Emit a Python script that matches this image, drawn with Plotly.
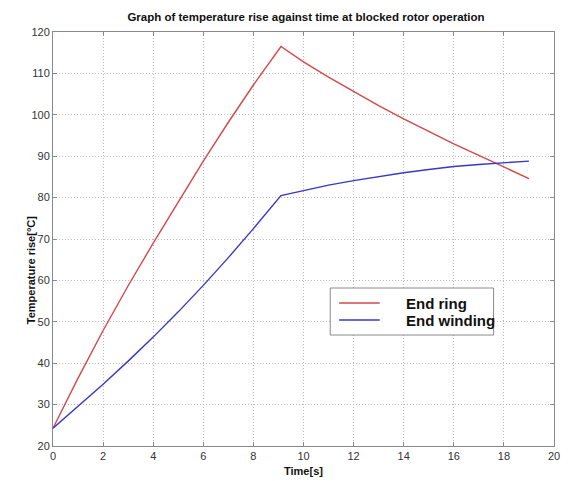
import plotly.graph_objects as go

# ---- data ----
time_s = [0, 1, 2, 3, 4, 5, 6, 7, 8, 9.1, 10, 11, 12, 13, 14, 15, 16, 17, 18, 19]
end_ring = [24.3, 36.4, 47.9, 58.7, 69.0, 79.0, 88.8, 98.2, 107.2, 116.5,
             112.8, 109.1, 105.6, 102.2, 99.0, 95.9, 93.0, 90.2, 87.3, 84.6]
end_winding = [24.3, 29.5, 34.9, 40.5, 46.3, 52.4, 58.8, 65.5, 72.5, 80.5,
               81.7, 83.0, 84.1, 85.1, 86.0, 86.8, 87.5, 88.0, 88.4, 88.8]
series_names = ["End ring", "End winding"]
series_colors = ["#d44848", "#3838c8"]
x_ticks = [0, 2, 4, 6, 8, 10, 12, 14, 16, 18, 20]
y_ticks = [20, 30, 40, 50, 60, 70, 80, 90, 100, 110, 120]
title_text = "Graph of temperature rise against time at blocked rotor operation"
x_title = "Time[s]"
y_title = "Temperature rise[°C]"

FONT = "Liberation Sans, Arial, sans-serif"

fig = go.Figure()
for vals, name, col in zip([end_ring, end_winding], series_names, series_colors):
    fig.add_trace(go.Scatter(x=time_s, y=vals, mode="lines", name=name,
                             line=dict(color=col, width=1.4), showlegend=False))

W, H = 572, 481
L, R, T, B = 53, 13, 32, 35

axis_common = dict(showline=True, linecolor="#8a8a8a", linewidth=1, mirror="ticks",
                   ticks="inside", ticklen=4, tickcolor="#8a8a8a",
                   showgrid=True, gridcolor="#b8b8b8", griddash="1px,2px", gridwidth=1,
                   zeroline=False, tickfont=dict(family=FONT, size=11, color="#333333"))

fig.update_layout(
    width=W, height=H,
    margin=dict(l=L, r=R, t=T, b=B, pad=0),
    paper_bgcolor="white", plot_bgcolor="white",
    showlegend=False,
    title=dict(text="<b>" + title_text + "</b>", x=(L + (W - L - R) / 2) / W, xanchor="center",
               y=1 - 17 / H, yanchor="middle", yref="container",
               font=dict(family=FONT, size=11.5, color="#111111")),
    xaxis=dict(range=[0, 20], tickvals=x_ticks, **axis_common),
    yaxis=dict(range=[20, 120], tickvals=y_ticks, **axis_common),
)

pw, ph = W - L - R, H - T - B
def px(x):
    return (x - L) / pw
def py(y):
    return (H - B - y) / ph

# axis titles
fig.add_annotation(text="<b>" + x_title + "</b>", xref="paper", yref="paper",
                   x=px(306), y=py(471), showarrow=False, xanchor="center", yanchor="middle",
                   font=dict(family=FONT, size=11, color="#111111"))
fig.add_annotation(text="<b>" + y_title + "</b>", xref="paper", yref="paper",
                   x=px(31), y=py(270), showarrow=False, xanchor="center", yanchor="middle",
                   textangle=-90, font=dict(family=FONT, size=11, color="#111111"))

# legend box drawn manually
fig.add_shape(type="rect", xref="paper", yref="paper", x0=px(333), x1=px(498),
              y0=py(335), y1=py(288), line=dict(color="#8a8a8a", width=1), fillcolor="white",
              layer="above")
for i, (name, col) in enumerate(zip(series_names, series_colors)):
    yy = [303, 320][i]
    fig.add_shape(type="line", xref="paper", yref="paper", x0=px(342), x1=px(383),
                  y0=py(yy), y1=py(yy), line=dict(color=col, width=1.4), layer="above")
    fig.add_annotation(text="<b>" + name + "</b>", xref="paper", yref="paper",
                       x=px(408), y=py(yy), showarrow=False, xanchor="left", yanchor="middle",
                       font=dict(family=FONT, size=15, color="#111111"))

fig.write_html("out.html")
